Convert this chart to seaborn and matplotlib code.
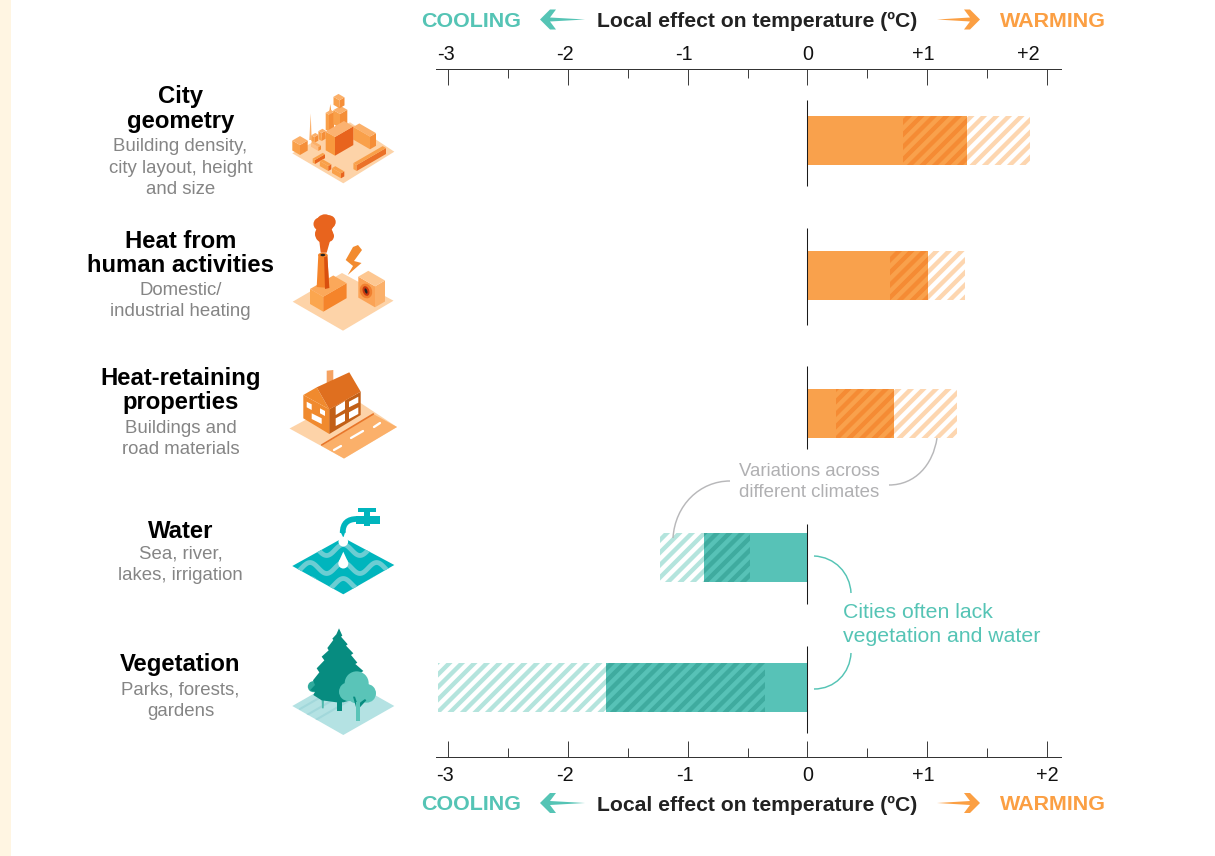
import numpy as np
import pandas as pd
import seaborn as sns
import matplotlib
matplotlib.use("Agg")
import matplotlib.pyplot as plt
from matplotlib.patches import Polygon, Circle, Ellipse, PathPatch, Rectangle
from matplotlib.path import Path
from matplotlib.transforms import ScaledTranslation

# ---- data ----
factors = ["City geometry", "Heat from human activities", "Heat-retaining properties", "Water", "Vegetation"]
effect_kind = ["warming", "warming", "warming", "cooling", "cooling"]
solid_end = [0.795, 0.69, 0.24, -0.48, -0.355]
overlap_end = [1.335, 1.01, 0.72, -0.86, -1.68]
range_end = [1.855, 1.315, 1.25, -1.23, -3.08]
row_centres = [140.5, 275.5, 413.5, 557.5, 687.5]
tick_values = [-3, -2, -1, 0, 1, 2]
tick_labels = ["-3", "-2", "-1", "0", "+1", "+2"]
minor_values = [-2.5, -1.5, -0.5, 0.5, 1.5]
titles = ["City\ngeometry", "Heat from\nhuman activities", "Heat-retaining\nproperties", "Water", "Vegetation"]
subtitles = ["Building density,\ncity layout, height\nand size", "Domestic/\nindustrial heating",
             "Buildings and\nroad materials", "Sea, river,\nlakes, irrigation", "Parks, forests,\ngardens"]

W, H, DPI = 1215, 857, 75
sns.set_theme(style="white")
plt.rcParams["font.family"] = ["Liberation Sans", "DejaVu Sans"]
plt.rcParams["hatch.linewidth"] = 4.2

fig = plt.figure(figsize=(W / DPI, H / DPI), dpi=DPI, facecolor="white")
fig.patches.append(Rectangle((0, 0), 11 / W, 1, transform=fig.transFigure, color="#FFF5E2", lw=0))

X0, PXU = 807.4, 119.8
AL, AR, AT, AB = 436, 1061, 69, 757
ax = fig.add_axes([AL / W, 1 - (AB + 1) / H, (AR - AL) / W, (AB - AT) / H], facecolor="none")

df = pd.DataFrame({"factor": factors, "kind": effect_kind, "solid": solid_end, "overlap": overlap_end,
                   "full": range_end, "row": row_centres})
bar_w = 49 / 130
layers = [("full", {"warming": "white", "cooling": "white"}, {"warming": "#FDD6B0", "cooling": "#B4E4DD"}),
          ("overlap", {"warming": "#F9A14C", "cooling": "#57C2B7"}, {"warming": "#F58B34", "cooling": "#3FAB9F"}),
          ("solid", {"warming": "#F9A14C", "cooling": "#57C2B7"}, None)]
for col, face, stripe in layers:
    n0 = len(ax.containers)
    sns.barplot(data=df, x=col, y="row", hue="kind", hue_order=["warming", "cooling"], palette=face,
                orient="y", native_scale=True, dodge=False, width=bar_w, saturation=1, errorbar=None,
                legend=False, linewidth=0, ax=ax)
    if stripe is not None:
        for cont, k in zip(ax.containers[n0:], ["warming", "cooling"]):
            for b in cont:
                b.set_hatch("//")
                b.set_edgecolor(stripe[k])
                b.set_linewidth(0)

ax.set_xlim((AL - X0) / PXU, (AR - X0) / PXU)
ax.set_ylim(AB, AT)
ax.set_xlabel("")
ax.set_ylabel("")
ax.set_yticks([])
ax.set_xticks(tick_values, tick_labels)
ax.set_xticks(minor_values, minor=True)
ax.tick_params(axis="x", which="major", direction="in", top=True, bottom=True, labeltop=True, labelbottom=True,
               length=16 * 72 / DPI, width=0.9, color="#333333", labelsize=19, labelcolor="#111111", pad=6)
ax.tick_params(axis="x", which="minor", direction="in", top=True, bottom=True,
               length=9 * 72 / DPI, width=0.9, color="#333333")
for s in ["left", "right"]:
    ax.spines[s].set_visible(False)
for s in ["top", "bottom"]:
    ax.spines[s].set_linewidth(0.95)
    ax.spines[s].set_color("#333333")
# the top labels sit slightly off their ticks in the original
top_shift = [-2, -3, -4, 0, -4, -19]
bot_shift = [-3, -3, -3, 0, -4, 0]
for t, a, b in zip(ax.xaxis.get_major_ticks(), top_shift, bot_shift):
    t.label2.set_transform(t.label2.get_transform() + ScaledTranslation(a / DPI, 0, fig.dpi_scale_trans))
    t.label1.set_transform(t.label1.get_transform() + ScaledTranslation(b / DPI, -1.5 / DPI, fig.dpi_scale_trans))

zero_spans = [(100, 186), (228, 325), (366, 449), (524, 604), (646, 733)]
for a, b in zero_spans:
    ax.plot([0, 0], [a, b], color="#1a1a1a", lw=1.0, zorder=6, solid_capstyle="butt")

# ---- overlay in pixel coordinates ----
ov = fig.add_axes([0, 0, 1, 1], facecolor="none")
ov.set_xlim(0, W)
ov.set_ylim(H - 1, -1)
ov.axis("off")

TITLE_X = 180.5
title_y = [108, 252.5, 389.5, 530, 663]
sub_y = [167, 300, 438, 564, 700]
for t, s, ty, sy in zip(titles, subtitles, title_y, sub_y):
    ov.text(TITLE_X, ty, t, ha="center", va="center", fontsize=22.9, fontweight="bold", color="black", linespacing=1.11)
    ov.text(TITLE_X, sy, s, ha="center", va="center", fontsize=17.9, color="#858585", linespacing=1.36)

TEAL, ORANGE = "#55C4B5", "#FB9F43"
for y in (20.5, 804):
    ov.text(757, y, "Local effect on temperature (ºC)", ha="center", va="center", fontsize=20.3, fontweight="bold", color="#222222")
    ov.text(471.5, y - 0.5, "COOLING", ha="center", va="center", fontsize=20.6, fontweight="bold", color=TEAL)
    ov.text(1053, y - 0.5, "WARMING", ha="center", va="center", fontsize=20.6, fontweight="bold", color=ORANGE)
    yy = y - 1
    ov.add_patch(Polygon([(540, yy), (550, yy - 10), (556, yy - 10), (550, yy - 2), (585, yy), (550, yy + 2), (556, yy + 10), (550, yy + 10)], color=TEAL, lw=0))
    ov.add_patch(Polygon([(980, yy), (970, yy - 10), (964, yy - 10), (970, yy - 2), (937, yy), (970, yy + 2), (964, yy + 10), (970, yy + 10)], color=ORANGE, lw=0))

def curve(p0, c1, c2, p1, color, lw, z=3):
    ov.add_patch(PathPatch(Path([p0, c1, c2, p1], [Path.MOVETO, Path.CURVE4, Path.CURVE4, Path.CURVE4]),
                           fc="none", ec=color, lw=lw, zorder=z))

GREY = "#B8B8BA"
ov.text(809.5, 481, "Variations across\ndifferent climates", ha="center", va="center", fontsize=17.9, color="#B0B0B2", linespacing=1.27)
curve((673, 538), (675, 505), (700, 481), (730, 481), GREY, 1.4)
curve((889, 485), (915, 485), (933, 465), (937, 438), GREY, 1.4)
ov.text(843, 623.5, "Cities often lack\nvegetation and water", ha="left", va="center", fontsize=20.4, color=TEAL, linespacing=1.34)
curve((814, 556), (835, 557), (850, 573), (851, 593), TEAL, 1.4)
curve((851, 653), (850, 673), (835, 689), (814, 689), TEAL, 1.4)

# ---- icons ----
def poly(pts, c, z=3):
    ov.add_patch(Polygon(pts, closed=True, fc=c, ec="none", zorder=z))

def box(x, y, a, b, h, top, left, right, z=3):
    s = 0.58
    L = (x - a, y - s * a)
    R = (x + b, y - s * b)
    B = (x + b - a, y - s * (a + b))
    up = lambda p: (p[0], p[1] - h)
    poly([(x, y), L, up(L), up((x, y))], left, z)
    poly([(x, y), R, up(R), up((x, y))], right, z)
    poly([up((x, y)), up(L), up(B), up(R)], top, z)

PALE, MID, LIGHT, DEEP = "#FDD3A8", "#FBB06A", "#F9A04A", "#E8641E"
SIDE = "#F58E38"
# city geometry
poly([(292.3, 153.3), (350, 122.3), (394.3, 151.7), (343.3, 183.3)], PALE)
box(300, 155, 7.7, 7.7, 10, MID, LIGHT, SIDE)
poly([(310.7, 113.3), (309.3, 140), (311.7, 140)], MID)
box(314.3, 143, 3, 4, 6, MID, LIGHT, SIDE)
box(321.7, 141, 3.3, 4, 8, MID, LIGHT, SIDE)
poly([(330.3, 104), (328.7, 116), (332, 116)], LIGHT)
box(329, 131.7, 3.3, 5, 17, MID, LIGHT, SIDE)
box(340, 128, 6.7, 7.3, 14, MID, LIGHT, SIDE)
box(339.5, 108.3, 6, 5, 8, MID, LIGHT, SIDE)
box(370, 149.3, 16.7, 6, 12.7, MID, LIGHT, SIDE)
box(335, 155.7, 9.3, 18.3, 18.7, "#FBB271", "#F8993E", DEEP)
box(318.3, 151, 7.3, 2.7, 4, MID, "#FDBE85", SIDE)
box(315, 164, 2.3, 10, 4, LIGHT, LIGHT, DEEP)
box(328.3, 171, 8.5, 3, 5, LIGHT, LIGHT, DEEP)
box(341, 178.3, 9, 3.3, 5, LIGHT, LIGHT, DEEP)
box(356.7, 171, 3.3, 29.3, 6, LIGHT, LIGHT, "#EB7229")
# heat from human activities
poly([(292.7, 301.7), (342, 273), (393.5, 300.7), (343, 330.7)], PALE)
box(323.3, 311.7, 13.3, 23.3, 15, "#FBA85A", "#FBA64F", "#F5842A")
poly([(318.3, 255), (327.3, 255), (329.3, 288), (316.7, 287)], "#F5842A", 4)
poly([(324, 255), (327.3, 255), (329.3, 288), (325, 289)], "#D9500F", 4)
ov.add_patch(Ellipse((322.8, 255), 9.5, 4.5, fc="#F5842A", ec="none", zorder=5))
ov.add_patch(Ellipse((322.8, 255), 4.8, 2.5, fc="#222222", ec="none", zorder=6))
for cx, cy, r in [(325, 223.3, 9), (320, 224, 6.5), (329, 222, 6.7), (324, 234, 9), (328, 236, 6)]:
    ov.add_patch(Circle((cx, cy), r, fc=DEEP, ec="none", zorder=4))
poly([(319.3, 241), (330, 241), (326.7, 252.7), (320.7, 252.7)], DEEP, 4)
poly([(358, 245), (362, 250), (354, 261), (361.5, 263), (347.7, 275), (353, 266), (345.7, 260), (353, 247)], "#F28B2F", 4)
box(375, 307.3, 16.7, 10, 21, "#FDC791", "#FBA356", "#FBB06A")
ov.add_patch(Ellipse((366, 291), 12, 15, angle=-20, fc="#F08030", ec="none", zorder=5))
ov.add_patch(Ellipse((366, 291), 6.5, 10, angle=-20, fc="#C8380F", ec="none", zorder=6))
ov.add_patch(Ellipse((366, 291), 2.5, 5.5, angle=-20, fc="#222222", ec="none", zorder=7))
# heat-retaining properties
poly([(289.5, 428.5), (350, 396), (397, 427), (344, 458.5)], PALE)
poly([(321.7, 446), (373.3, 414), (397, 427), (344, 458.5)], MID)
ov.plot([321.7, 373.3], [445, 414], color="#E8762A", lw=1.6, zorder=3)
poly([(303.3, 395), (329.3, 409.3), (329.3, 434), (303.3, 418.3)], "#F08A2E", 4)
poly([(329.3, 409.3), (360.7, 391.7), (360.7, 415), (329.3, 434)], "#C25F16", 4)
poly([(303.3, 395), (316.7, 387.3), (329.3, 409.3)], "#F08A2E", 5)
poly([(316.7, 387.3), (349.3, 372.3), (360.7, 391.7), (329.3, 409.3)], "#DF6F1F", 5)
poly([(326.7, 370.7), (333.3, 370), (333.3, 382), (326.7, 385)], "#F5A261", 4)
for pts in [[(306.7, 401.7), (311.7, 404.3), (311.7, 410), (306.7, 407.3)],
            [(311.7, 413.3), (321.7, 418.3), (321.7, 424), (311.7, 419)],
            [(320, 408.3), (325, 411), (325, 416), (320, 413.3)],
            [(335.7, 406.7), (345, 401), (345, 409.3), (335.7, 415)],
            [(349, 401.7), (358.3, 396.7), (358.3, 402.7), (349, 407.3)],
            [(335.7, 418.3), (345, 413.3), (345, 421), (335.7, 426)],
            [(349, 412.3), (358.3, 407.3), (358.3, 414), (349, 419)]]:
    poly(pts, "white", 6)
for a, b in [((334, 450), (341, 446)), ((351, 438), (363, 431)), ((374, 427), (380, 423))]:
    ov.plot(*zip(a, b), color="white", lw=2.2, zorder=4)
# water
diamond4 = Polygon([(292.3, 566), (343.3, 537.7), (394.3, 565), (343.3, 594.3)], closed=True, fc="#00B5BD", ec="none", zorder=3)
ov.add_patch(diamond4)
wx = np.linspace(290, 396, 120)
for yc in (550, 568, 584):
    wy = yc - 5.5 * np.cos((wx - 343.3) / 33.3 * 2 * np.pi)
    ln, = ov.plot(wx, wy, color="#6BCDD3", lw=4.6, zorder=4, solid_capstyle="butt")
    ln.set_clip_path(diamond4)
ov.add_patch(Circle((343.3, 541.7), 4.8, fc="white", ec="none", zorder=6))
ov.add_patch(Circle((343.3, 563.5), 5, fc="white", ec="none", zorder=6))
poly([(343.3, 551.7), (338.8, 561.5), (347.8, 561.5)], "white", 6)
TAP = "#00B5BD"
curve((342.7, 533), (342.7, 523), (348, 519), (357, 519), TAP, 5.5)
poly([(356, 516), (380, 516), (380, 523.5), (356, 523.5)], TAP, 5)
poly([(363.5, 510), (370, 510), (370, 526), (363.5, 526)], TAP, 5)
poly([(357.7, 508), (375.7, 508), (375.7, 511.7), (357.7, 511.7)], TAP, 5)
poly([(340, 531), (345.5, 531), (343.6, 537), (343, 537)], TAP, 5)
# vegetation
zx = lambda p: (285 + p[0] / 3, 625 + p[1] / 3)
base5 = Polygon([(292.3, 706), (343, 677), (394.3, 706), (343.3, 735)], closed=True, fc="#B4E2E3", ec="none", zorder=3)
ov.add_patch(base5)
for d in (-18, -8, 2, 12, 22):
    ln, = ov.plot([300, 390], [707 + d, 655 + d], color="#A2D8DB", lw=2, zorder=3)
    ln.set_clip_path(base5)
poly([zx(p) for p in [(110, 225), (117, 225), (116, 250), (111, 250)]], "#4DB8AC", 4)
ov.add_patch(Circle(zx((85, 185)), 5.5, fc="#2FA99C", ec="none", zorder=4))
conifer = [(162, 10), (172, 32), (168, 35), (188, 58), (183, 62), (205, 85), (198, 90), (217, 113), (211, 117),
           (235, 138), (228, 143), (248, 170), (240, 200), (200, 225), (175, 232), (155, 232), (110, 226), (85, 210),
           (90, 200), (75, 196), (90, 180), (84, 166), (103, 142), (95, 130), (118, 106), (110, 95), (131, 76),
           (127, 69), (145, 45), (142, 41), (154, 28)]
poly([zx(p) for p in conifer], "#078C80", 5)
poly([zx(p) for p in [(155, 230), (172, 230), (172, 258), (155, 258)]], "#078C80", 5)
LT = "#5AC4B8"
for p, r in [((215, 175), 36), ((190, 200), 28), ((245, 205), 28), ((215, 205), 30)]:
    ov.add_patch(Circle(zx(p), r / 3, fc=LT, ec="none", zorder=6))
poly([zx(p) for p in [(204, 215), (210, 215), (220, 245), (214, 250)]], "#078C80", 7)
poly([zx(p) for p in [(215, 240), (240, 222), (244, 226), (222, 250)]], "#078C80", 7)
poly([zx(p) for p in [(213, 232), (224, 232), (224, 288), (213, 288)]], LT, 8)

fig.savefig("out.png", dpi=DPI)
